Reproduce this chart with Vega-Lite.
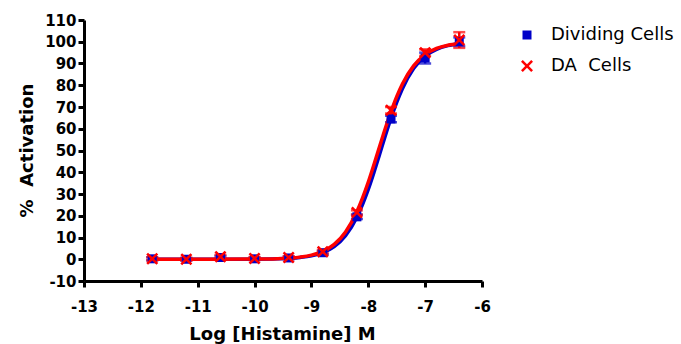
{
  "$schema": "https://vega.github.io/schema/vega-lite/v6.json",
  "autosize": "none",
  "width": 398,
  "height": 261,
  "padding": {"left": 84, "top": 20, "right": 199, "bottom": 63},
  "background": "white",
  "config": {
    "view": {"stroke": null},
    "axis": {
      "domainColor": "black", "domainWidth": 3, "tickColor": "black", "tickWidth": 3, "tickSize": 6,
      "grid": false, "labelFont": "DejaVu Sans", "labelFontWeight": "bold", "labelFontSize": 15, "labelColor": "black",
      "labelFlush": false, "labelOverlap": false,
      "titleFont": "DejaVu Sans", "titleFontWeight": "bold", "titleFontSize": 18, "titleColor": "black"
    },
    "legend": {
      "orient": "none", "legendX": 434, "legendY": 6, "padding": 0,
      "labelFont": "DejaVu Sans", "labelFontSize": 18, "labelColor": "black",
      "symbolSize": 144, "rowPadding": 13, "labelOffset": 15, "symbolStrokeWidth": 0
    }
  },
  "datasets": {
    "points": [
      {"logx": -11.8, "y": 0.2, "lo": -0.5, "hi": 0.9, "series": "Dividing Cells"},
      {"logx": -11.2, "y": 0.0, "lo": -0.6, "hi": 0.6, "series": "Dividing Cells"},
      {"logx": -10.6, "y": 0.8, "lo": 0.1, "hi": 1.5, "series": "Dividing Cells"},
      {"logx": -10.0, "y": 0.2, "lo": -0.4, "hi": 0.8, "series": "Dividing Cells"},
      {"logx": -9.4, "y": 0.6, "lo": 0.0, "hi": 1.2, "series": "Dividing Cells"},
      {"logx": -8.8, "y": 3.0, "lo": 2.2, "hi": 3.8, "series": "Dividing Cells"},
      {"logx": -8.2, "y": 19.5, "lo": 18.5, "hi": 20.5, "series": "Dividing Cells"},
      {"logx": -7.6, "y": 64.5, "lo": 63.0, "hi": 66.0, "series": "Dividing Cells"},
      {"logx": -7.0, "y": 92.5, "lo": 90.0, "hi": 95.0, "series": "Dividing Cells"},
      {"logx": -6.4, "y": 100.0, "lo": 98.0, "hi": 102.0, "series": "Dividing Cells"},
      {"logx": -11.8, "y": 0.2, "lo": -0.5, "hi": 0.9, "series": "DA\u00a0 Cells"},
      {"logx": -11.2, "y": 0.0, "lo": -0.6, "hi": 0.6, "series": "DA\u00a0 Cells"},
      {"logx": -10.6, "y": 1.2, "lo": 0.4, "hi": 2.0, "series": "DA\u00a0 Cells"},
      {"logx": -10.0, "y": 0.4, "lo": -0.2, "hi": 1.0, "series": "DA\u00a0 Cells"},
      {"logx": -9.4, "y": 0.8, "lo": 0.2, "hi": 1.4, "series": "DA\u00a0 Cells"},
      {"logx": -8.8, "y": 3.5, "lo": 2.7, "hi": 4.3, "series": "DA\u00a0 Cells"},
      {"logx": -8.2, "y": 21.5, "lo": 20.5, "hi": 22.5, "series": "DA\u00a0 Cells"},
      {"logx": -7.6, "y": 68.5, "lo": 67.0, "hi": 70.0, "series": "DA\u00a0 Cells"},
      {"logx": -7.0, "y": 95.0, "lo": 93.5, "hi": 96.5, "series": "DA\u00a0 Cells"},
      {"logx": -6.4, "y": 100.8, "lo": 97.2, "hi": 104.4, "series": "DA\u00a0 Cells"}
    ],
    "curveDiv": [
      {"logx": -11.8, "y": 0.0}, {"logx": -10.8, "y": 0.0}, {"logx": -10.0, "y": 0.05},
      {"logx": -9.6, "y": 0.21}, {"logx": -9.2, "y": 0.81}, {"logx": -9.0, "y": 1.56},
      {"logx": -8.8, "y": 3.03}, {"logx": -8.6, "y": 5.81}, {"logx": -8.4, "y": 10.86},
      {"logx": -8.2, "y": 19.37}, {"logx": -8.0, "y": 32.14}, {"logx": -7.9, "y": 39.95},
      {"logx": -7.8, "y": 48.3}, {"logx": -7.7, "y": 56.76}, {"logx": -7.6, "y": 64.8},
      {"logx": -7.5, "y": 72.1}, {"logx": -7.4, "y": 78.4}, {"logx": -7.2, "y": 87.8},
      {"logx": -7.0, "y": 93.4}, {"logx": -6.8, "y": 96.5}, {"logx": -6.6, "y": 98.2},
      {"logx": -6.4, "y": 99.1}
    ],
    "curveDA": [
      {"logx": -11.8, "y": 0.0}, {"logx": -10.8, "y": 0.0}, {"logx": -10.0, "y": 0.07},
      {"logx": -9.6, "y": 0.25}, {"logx": -9.2, "y": 0.97}, {"logx": -9.0, "y": 1.88},
      {"logx": -8.8, "y": 3.61}, {"logx": -8.6, "y": 6.84}, {"logx": -8.4, "y": 12.58},
      {"logx": -8.2, "y": 21.98}, {"logx": -8.0, "y": 35.5}, {"logx": -7.9, "y": 43.6},
      {"logx": -7.8, "y": 51.9}, {"logx": -7.7, "y": 60.2}, {"logx": -7.6, "y": 67.9},
      {"logx": -7.5, "y": 74.8}, {"logx": -7.4, "y": 80.6}, {"logx": -7.2, "y": 89.0},
      {"logx": -7.0, "y": 94.1}, {"logx": -6.8, "y": 96.9}, {"logx": -6.6, "y": 98.4},
      {"logx": -6.4, "y": 99.2}
    ]
  },
  "encoding": {
    "x": {
      "field": "logx", "type": "quantitative",
      "scale": {"domain": [-13, -6], "nice": false, "zero": false},
      "axis": {
        "values": [-13, -12, -11, -10, -9, -8, -7, -6], "labelExpr": "datum.value + ''",
        "labelPadding": 12, "labelBaseline": "top",
        "title": "Log [Histamine] M", "titleX": 198, "titleY": 58, "titleBaseline": "alphabetic", "titleAlign": "center"
      }
    },
    "y": {
      "field": "y", "type": "quantitative",
      "scale": {"domain": [-10, 110], "nice": false, "zero": false},
      "axis": {
        "values": [-10, 0, 10, 20, 30, 40, 50, 60, 70, 80, 90, 100, 110], "labelExpr": "datum.value + ''",
        "labelPadding": 2,
        "title": "%\u00a0 Activation", "titleX": -52, "titleY": 130, "titleAngle": -90, "titleBaseline": "alphabetic", "titleAlign": "center"
      }
    }
  },
  "layer": [
    {
      "data": {"name": "curveDiv"},
      "mark": {"type": "line", "color": "#0000C8", "strokeWidth": 3.5, "interpolate": "monotone"}
    },
    {
      "data": {"name": "points"},
      "transform": [{"filter": "datum.series == 'Dividing Cells'"}],
      "layer": [
        {"mark": {"type": "rule", "color": "#0000C8", "strokeWidth": 2.5}, "encoding": {"y": {"field": "lo", "type": "quantitative"}, "y2": {"field": "hi"}}},
        {"mark": {"type": "tick", "orient": "horizontal", "color": "#0000C8", "size": 12, "thickness": 2.5}, "encoding": {"y": {"field": "lo", "type": "quantitative"}}},
        {"mark": {"type": "tick", "orient": "horizontal", "color": "#0000C8", "size": 12, "thickness": 2.5}, "encoding": {"y": {"field": "hi", "type": "quantitative"}}}
      ]
    },
    {
      "data": {"name": "curveDA"},
      "mark": {"type": "line", "color": "#FF0000", "strokeWidth": 3.5, "interpolate": "monotone"}
    },
    {
      "data": {"name": "points"},
      "transform": [{"filter": "datum.series != 'Dividing Cells'"}],
      "layer": [
        {"mark": {"type": "rule", "color": "#FF0000", "strokeWidth": 2.5}, "encoding": {"y": {"field": "lo", "type": "quantitative"}, "y2": {"field": "hi"}}},
        {"mark": {"type": "tick", "orient": "horizontal", "color": "#FF0000", "size": 12, "thickness": 2.5}, "encoding": {"y": {"field": "lo", "type": "quantitative"}}},
        {"mark": {"type": "tick", "orient": "horizontal", "color": "#FF0000", "size": 12, "thickness": 2.5}, "encoding": {"y": {"field": "hi", "type": "quantitative"}}}
      ]
    },
    {
      "data": {"name": "points"},
      "mark": {"type": "point", "filled": true, "opacity": 1, "size": 144, "strokeWidth": 0},
      "encoding": {
        "color": {
          "field": "series", "type": "nominal",
          "scale": {"domain": ["Dividing Cells", "DA\u00a0 Cells"], "range": ["#0000C8", "#FF0000"]},
          "legend": {"title": null}
        },
        "shape": {
          "field": "series", "type": "nominal",
          "scale": {"domain": ["Dividing Cells", "DA\u00a0 Cells"], "range": ["M-0.75,-0.75H0.75V0.75H-0.75Z", "M-1,-0.7L-0.7,-1L0,-0.3L0.7,-1L1,-0.7L0.3,0L1,0.7L0.7,1L0,0.3L-0.7,1L-1,0.7L-0.3,0Z"]},
          "legend": {"title": null}
        },
        "order": {"field": "series", "sort": "descending"}
      }
    }
  ]
}
